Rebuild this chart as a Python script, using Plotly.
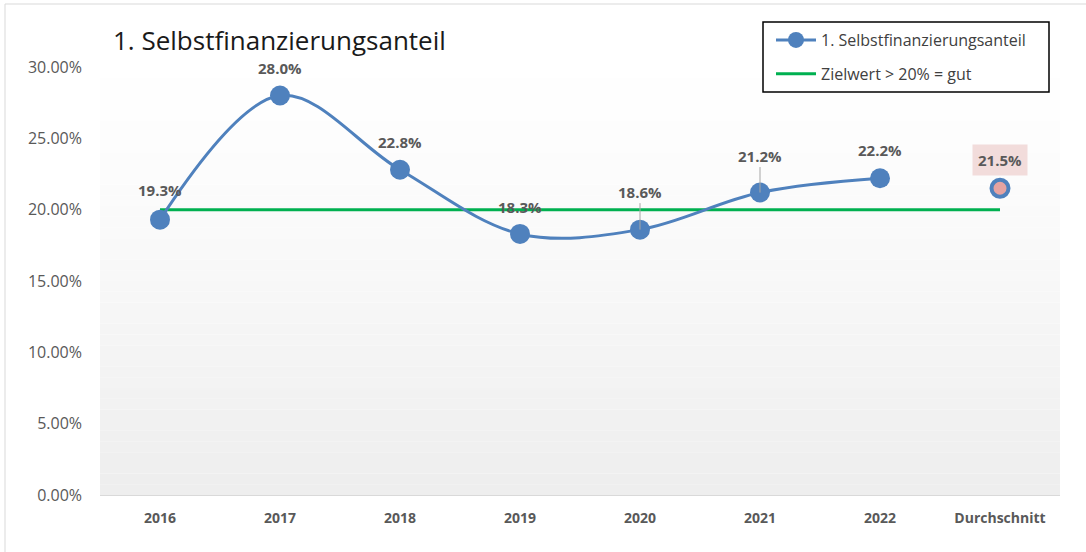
import plotly.graph_objects as go

# Daten
jahre = ["2016", "2017", "2018", "2019", "2020", "2021", "2022"]
anteil = [0.193, 0.280, 0.228, 0.183, 0.186, 0.212, 0.222]
kategorien = jahre + ["Durchschnitt"]
durchschnitt = [0.215]
zielwert = [0.20] * len(kategorien)
y_ticks = [0.0, 0.05, 0.10, 0.15, 0.20, 0.25, 0.30]

BLAU = "#4f81bd"
GRUEN = "#00b050"
GRAU_TEXT = "#595959"
FONT = "Open Sans, Liberation Sans, sans-serif"


def px_x(x):
    # Pixel -> paper (Plotbereich 100..1060)
    return (x - 100) / 960


def px_y(y):
    # Pixel -> paper (Plotbereich 67..495)
    return (495 - y) / 428


fig = go.Figure()

fig.add_trace(go.Scatter(
    x=kategorien, y=zielwert,
    mode="lines",
    line=dict(color=GRUEN, width=3),
    name="Zielwert > 20% = gut",
    legendrank=2, legendgroup="ziel",
))

fig.add_trace(go.Scatter(
    x=jahre, y=anteil,
    mode="lines+markers",
    line=dict(color=BLAU, width=3, shape="spline", smoothing=1.0),
    marker=dict(size=20, color=BLAU),
    name="1. Selbstfinanzierungsanteil",
    legendrank=1, legendgroup="anteil",
))

fig.add_trace(go.Scatter(
    x=["Durchschnitt"], y=durchschnitt,
    mode="markers",
    marker=dict(size=17, color="#e6a3a1", line=dict(color=BLAU, width=4)),
    showlegend=False,
))

# Datenbeschriftungen (x als Kategorie-Index)
versatz = {"2016": (0, -30), "2019": (0, -27), "2020": (0, -38), "2021": (0, -37)}
for i, (kat, wert) in enumerate(zip(jahre, anteil)):
    dx, dy = versatz.get(kat, (0, -28))
    leader = kat in ("2020", "2021")
    fig.add_annotation(
        x=i, y=wert, text=f"{wert*100:.1f}%",
        showarrow=leader, arrowhead=0, arrowwidth=1, arrowcolor="#a6a6a6",
        ax=dx, ay=dy, standoff=0,
        yshift=0 if leader else -dy,
        font=dict(family=FONT, size=15, color=GRAU_TEXT, weight="bold"),
    )
fig.add_annotation(
    x=len(jahre), y=durchschnitt[0], text=f"{durchschnitt[0]*100:.1f}%",
    showarrow=False, yshift=28, bgcolor="#f2dcdb", borderpad=5,
    font=dict(family=FONT, size=15, color=GRAU_TEXT, weight="bold"),
)

# Titel
fig.add_annotation(
    xref="paper", yref="paper", x=px_x(111), y=px_y(40),
    xanchor="left", yanchor="middle", showarrow=False,
    text="1. Selbstfinanzierungsanteil",
    font=dict(family=FONT, size=26, color="#1a1a1a"),
)

# Hintergrund-Verlauf im Plotbereich
schritte = 40
for i in range(schritte):
    t = i / (schritte - 1)
    c = int(255 - (255 - 238) * (1 - t) ** 1.3)
    fig.add_shape(
        type="rect", xref="paper", yref="paper", layer="below",
        x0=0, x1=1, y0=i / schritte, y1=(i + 1) / schritte,
        fillcolor=f"rgb({c},{c},{c})", line=dict(width=0),
    )

# Rahmen um das Diagramm
fig.add_shape(
    type="rect", xref="paper", yref="paper",
    x0=px_x(5), x1=px_x(1095), y0=px_y(560), y1=px_y(4),
    line=dict(color="#d9d9d9", width=1), fillcolor="rgba(0,0,0,0)",
)

# Legendenrahmen
fig.add_shape(
    type="rect", xref="paper", yref="paper", layer="above",
    x0=px_x(763), x1=px_x(1049), y0=px_y(92), y1=px_y(22),
    line=dict(color="black", width=1.5), fillcolor="white",
)

fig.update_layout(
    width=1086, height=552,
    margin=dict(l=100, r=26, t=67, b=57),
    paper_bgcolor="white",
    plot_bgcolor="rgba(0,0,0,0)",
    showlegend=True,
    legend=dict(
        x=px_x(771), y=px_y(23), xanchor="left", yanchor="top",
        bgcolor="rgba(0,0,0,0)", borderwidth=0,
        font=dict(family=FONT, size=16, color="#404040"),
        traceorder="grouped", tracegroupgap=10, itemwidth=40,
    ),
    xaxis=dict(
        type="category", categoryorder="array", categoryarray=kategorien,
        range=[-0.5, len(kategorien) - 0.5], autorange=False,
        showgrid=False, showline=True, linecolor="#d9d9d9", linewidth=1,
        ticks="", tickfont=dict(family=FONT, size=14, color=GRAU_TEXT, weight="bold"),
        ticklabelstandoff=10,
    ),
    yaxis=dict(
        range=[0, 0.30], tickvals=y_ticks, tickformat=".2%",
        showgrid=False, zeroline=False, showline=False, ticks="",
        tickfont=dict(family=FONT, size=16, color=GRAU_TEXT),
        ticklabelstandoff=17,
    ),
)

fig.write_html(
    "out.html",
    config={"displayModeBar": False},
    post_script="document.body.style.margin='0';",
)
